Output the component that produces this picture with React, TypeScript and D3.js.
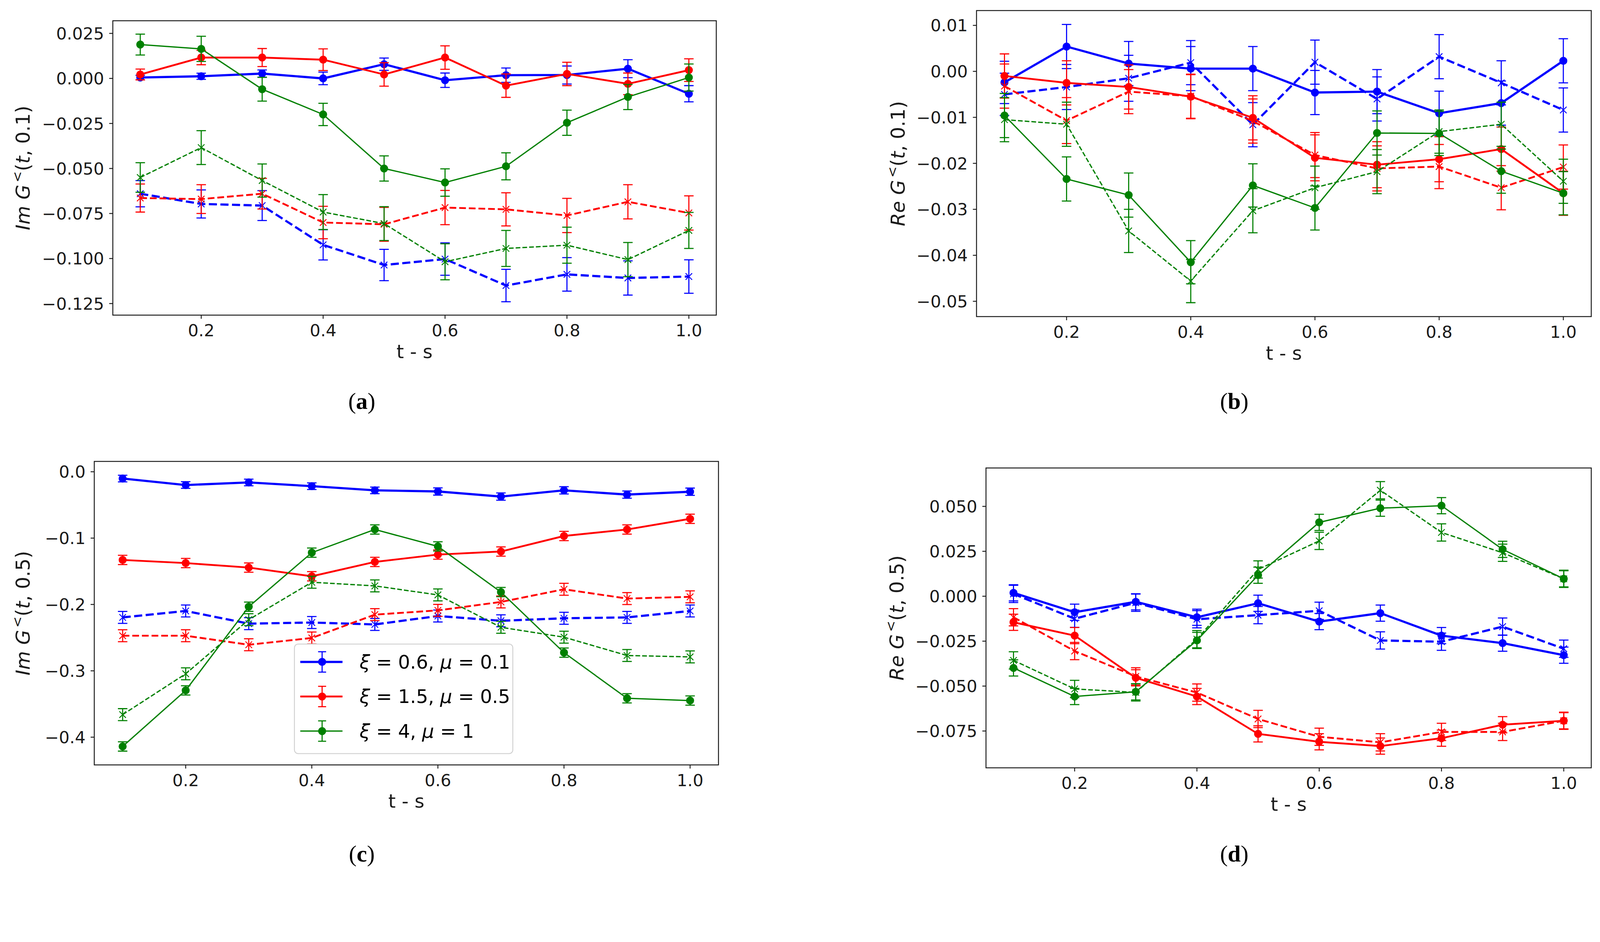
import React from 'react'
import * as d3 from 'd3'

// shared x values (t - s) and ticks
const T = [0.1, 0.2, 0.3, 0.4, 0.5, 0.6, 0.7, 0.8, 0.9, 1.0]
const X_TICKS = [0.2, 0.4, 0.6, 0.8, 1.0]

// (a) Im G<(t, 0.1)
const A_BLUE = [0.0005, 0.0012, 0.0027, 0.0, 0.0079, -0.001, 0.0018, 0.0019, 0.0054, -0.0085]
const A_BLUE_ERR = [0.0012, 0.0017, 0.002, 0.0035, 0.0034, 0.004, 0.004, 0.005, 0.005, 0.0045]
const A_BLUE_D = [-0.064, -0.0697, -0.0706, -0.0924, -0.1036, -0.1003, -0.115, -0.1088, -0.1108, -0.11]
const A_BLUE_D_ERR = [0.0073, 0.0078, 0.0083, 0.0084, 0.0087, 0.009, 0.009, 0.0093, 0.0095, 0.0093]
const A_RED = [0.0022, 0.0116, 0.0116, 0.0104, 0.0022, 0.0116, -0.004, 0.0025, -0.003, 0.0046]
const A_RED_ERR = [0.003, 0.004, 0.005, 0.006, 0.0065, 0.0065, 0.0065, 0.0065, 0.006, 0.0063]
const A_RED_D = [-0.0664, -0.067, -0.064, -0.08, -0.081, -0.0717, -0.0727, -0.0761, -0.0685, -0.0747]
const A_RED_D_ERR = [0.0078, 0.008, 0.0085, 0.009, 0.0094, 0.0095, 0.0092, 0.0095, 0.0095, 0.0095]
const A_GREEN = [0.0188, 0.0164, -0.006, -0.02, -0.05, -0.0578, -0.0488, -0.0246, -0.0103, 0.0005]
const A_GREEN_ERR = [0.0058, 0.007, 0.0066, 0.0062, 0.007, 0.0076, 0.0075, 0.007, 0.007, 0.0075]
const A_GREEN_D = [-0.055, -0.0384, -0.0567, -0.0742, -0.0806, -0.1018, -0.0944, -0.0926, -0.1006, -0.0844]
const A_GREEN_D_ERR = [0.0082, 0.0094, 0.0092, 0.0097, 0.0094, 0.01, 0.01, 0.01, 0.0095, 0.01]
const A_TICKS = [0.025, 0.0, -0.025, -0.05, -0.075, -0.1, -0.125]

// (b) Re G<(t, 0.1)
const B_BLUE = [-0.0024, 0.0054, 0.0017, 0.0006, 0.0006, -0.0046, -0.0044, -0.0091, -0.0069, 0.0023]
const B_BLUE_ERR = [0.0046, 0.0048, 0.0048, 0.0048, 0.0048, 0.0048, 0.0048, 0.0048, 0.0048, 0.0048]
const B_BLUE_D = [-0.005, -0.0034, -0.0015, 0.0019, -0.0116, 0.002, -0.006, 0.0032, -0.0025, -0.0084]
const B_BLUE_D_ERR = [0.0046, 0.0049, 0.005, 0.0048, 0.0048, 0.0048, 0.0048, 0.0048, 0.0048, 0.0048]
const B_RED = [-0.001, -0.0025, -0.0034, -0.0055, -0.0101, -0.0188, -0.0203, -0.0191, -0.0169, -0.0265]
const B_RED_ERR = [0.0048, 0.0048, 0.0048, 0.0048, 0.0048, 0.005, 0.005, 0.0049, 0.0048, 0.0048]
const B_RED_D = [-0.0032, -0.0107, -0.0044, -0.0054, -0.0108, -0.0182, -0.0211, -0.0207, -0.0253, -0.0208]
const B_RED_D_ERR = [0.0048, 0.005, 0.0048, 0.0048, 0.0048, 0.0049, 0.0049, 0.0048, 0.0048, 0.0048]
const B_GREEN = [-0.0096, -0.0234, -0.0269, -0.0415, -0.0248, -0.0297, -0.0134, -0.0135, -0.0217, -0.0265]
const B_GREEN_ERR = [0.0048, 0.0048, 0.0048, 0.0047, 0.0047, 0.0048, 0.0048, 0.0048, 0.0048, 0.0047]
const B_GREEN_D = [-0.0105, -0.0115, -0.0347, -0.0456, -0.0303, -0.0253, -0.0218, -0.0131, -0.0115, -0.0239]
const B_GREEN_D_ERR = [0.0048, 0.0048, 0.0047, 0.0047, 0.0048, 0.0047, 0.0048, 0.0047, 0.0048, 0.0048]
const B_TICKS = [0.01, 0.0, -0.01, -0.02, -0.03, -0.04, -0.05]

// (c) Im G<(t, 0.5)
const C_BLUE = [-0.0102, -0.02, -0.0161, -0.0217, -0.028, -0.0297, -0.0374, -0.028, -0.0344, -0.0301]
const C_BLUE_ERR = [0.005, 0.005, 0.005, 0.005, 0.005, 0.0055, 0.0055, 0.0055, 0.0055, 0.0055]
const C_BLUE_D = [-0.2195, -0.2098, -0.2289, -0.2272, -0.2301, -0.2174, -0.2246, -0.2208, -0.2195, -0.2098]
const C_BLUE_D_ERR = [0.009, 0.009, 0.009, 0.009, 0.009, 0.009, 0.009, 0.009, 0.009, 0.009]
const C_RED = [-0.1329, -0.1376, -0.1444, -0.1575, -0.1359, -0.1248, -0.1202, -0.0968, -0.087, -0.0709]
const C_RED_ERR = [0.007, 0.007, 0.007, 0.007, 0.007, 0.007, 0.007, 0.007, 0.007, 0.007]
const C_RED_D = [-0.2471, -0.2471, -0.2607, -0.2505, -0.2153, -0.2089, -0.1962, -0.1771, -0.1911, -0.1885]
const C_RED_D_ERR = [0.009, 0.009, 0.009, 0.009, 0.009, 0.009, 0.009, 0.009, 0.009, 0.009]
const C_GREEN = [-0.414, -0.3295, -0.2034, -0.1219, -0.087, -0.1125, -0.1813, -0.2726, -0.3414, -0.3448]
const C_GREEN_ERR = [0.007, 0.007, 0.007, 0.007, 0.007, 0.007, 0.007, 0.007, 0.007, 0.007]
const C_GREEN_D = [-0.366, -0.3045, -0.2229, -0.1665, -0.172, -0.1856, -0.2344, -0.2493, -0.2769, -0.279]
const C_GREEN_D_ERR = [0.009, 0.009, 0.009, 0.009, 0.009, 0.009, 0.009, 0.009, 0.009, 0.009]
const C_TICKS = [0.0, -0.1, -0.2, -0.3, -0.4]

// (d) Re G<(t, 0.5)
const D_BLUE = [0.0019, -0.0089, -0.0031, -0.0117, -0.0039, -0.0141, -0.0094, -0.0219, -0.0261, -0.0328]
const D_BLUE_ERR = [0.0045, 0.0045, 0.0045, 0.0045, 0.0045, 0.0045, 0.0045, 0.0045, 0.0045, 0.0045]
const D_BLUE_D = [0.0013, -0.0125, -0.0036, -0.0128, -0.0105, -0.0081, -0.0246, -0.0253, -0.0169, -0.0292]
const D_BLUE_D_ERR = [0.0048, 0.0048, 0.0048, 0.0048, 0.0048, 0.0048, 0.0048, 0.0048, 0.0048, 0.0048]
const D_RED = [-0.0145, -0.0219, -0.0454, -0.0558, -0.0766, -0.081, -0.0834, -0.079, -0.0715, -0.0693]
const D_RED_ERR = [0.0045, 0.0045, 0.0045, 0.0045, 0.0045, 0.0045, 0.0045, 0.0045, 0.0045, 0.0045]
const D_RED_D = [-0.0117, -0.0305, -0.0446, -0.0536, -0.0683, -0.0782, -0.0813, -0.0755, -0.0755, -0.0693]
const D_RED_D_ERR = [0.0048, 0.0048, 0.0048, 0.0048, 0.0048, 0.0048, 0.0048, 0.0048, 0.0048, 0.0048]
const D_GREEN = [-0.0399, -0.0558, -0.0532, -0.0246, 0.0117, 0.0411, 0.049, 0.0504, 0.0261, 0.0097]
const D_GREEN_ERR = [0.0045, 0.0045, 0.0045, 0.0045, 0.0045, 0.0045, 0.0045, 0.0045, 0.0045, 0.0045]
const D_GREEN_D = [-0.0357, -0.0516, -0.0535, -0.0239, 0.0149, 0.0308, 0.059, 0.0355, 0.0242, 0.0097]
const D_GREEN_D_ERR = [0.0048, 0.0048, 0.0048, 0.0048, 0.0048, 0.0048, 0.0048, 0.0048, 0.0048, 0.0048]
const D_TICKS = [0.05, 0.025, 0.0, -0.025, -0.05, -0.075]

const LEGEND_LABELS = [
  { xi: '0.6', mu: '0.1' },
  { xi: '1.5', mu: '0.5' },
  { xi: '4', mu: '1' },
]

const COLORS = { blue: '#0000ff', red: '#ff0000', green: '#008000' }
const LW = { blue: 6, red: 5, green: 3.5 }
const FONT = 'DejaVu Sans'
const MINUS = (s: string) => s.replace('-', '\u2212')

type Key = 'blue' | 'red' | 'green'
interface Series { key: Key; dashed: boolean; vals: number[]; errs: number[] }

const mk = (key: Key, dashed: boolean, vals: number[], errs: number[]): Series => ({ key, dashed, vals, errs })

function Panel(props: {
  frame: { l: number; r: number; t: number; b: number }
  series: Series[]
  yTicks: number[]
  yFmt: string
  part: string
  arg: string
  yLabelX: number
  caption: string
  capX: number
  capY: number
  legend?: { x0: number; y0: number; x1: number; y1: number; rows: number[] }
}) {
  const { frame, series, yTicks, yFmt, part, arg, yLabelX, caption, capX, capY, legend } = props
  const tSpan = d3.max(T)! - d3.min(T)!
  const x = d3.scaleLinear()
    .domain([d3.min(T)! - 0.05 * tSpan, d3.max(T)! + 0.05 * tSpan])
    .range([frame.l, frame.r])
  const lo = d3.min(series.flatMap((s) => s.vals.map((v, i) => v - s.errs[i])))!
  const hi = d3.max(series.flatMap((s) => s.vals.map((v, i) => v + s.errs[i])))!
  const pad = (hi - lo) * 0.05
  const y = d3.scaleLinear().domain([lo - pad, hi + pad]).range([frame.b, frame.t])
  const fmt = d3.format(yFmt)
  const line = d3.line<number>().x((_, i) => x(T[i])).y((v) => y(v))
  const cap = 13
  const ms = 9

  return (
    <g>
      <defs>
        <clipPath id={`clip-${caption}`}>
          <rect x={frame.l} y={frame.t} width={frame.r - frame.l} height={frame.b - frame.t} />
        </clipPath>
      </defs>
      <g clipPath={`url(#clip-${caption})`}>
        {series.map((s, si) => {
          const c = COLORS[s.key]
          const lw = LW[s.key]
          return (
            <g key={si}>
              <path d={line(s.vals) ?? ''} fill="none" stroke={c} strokeWidth={lw}
                strokeDasharray={s.dashed ? `${3.7 * lw} ${1.6 * lw}` : undefined} />
              {s.vals.map((v, i) => {
                const cx = x(T[i])
                const y1 = y(v + s.errs[i])
                const y2 = y(v - s.errs[i])
                return (
                  <g key={i} stroke={c} strokeWidth={3}>
                    <line x1={cx} x2={cx} y1={y1} y2={y2} />
                    <line x1={cx - cap} x2={cx + cap} y1={y1} y2={y1} />
                    <line x1={cx - cap} x2={cx + cap} y1={y2} y2={y2} />
                  </g>
                )
              })}
              {s.vals.map((v, i) => s.dashed ? (
                <path key={`m${i}`} transform={`translate(${x(T[i])},${y(v)})`}
                  d={`M${-ms},${-ms}L${ms},${ms}M${-ms},${ms}L${ms},${-ms}`}
                  stroke={c} strokeWidth={2.5} fill="none" />
              ) : (
                <circle key={`m${i}`} cx={x(T[i])} cy={y(v)} r={11} fill={c} />
              ))}
            </g>
          )
        })}
      </g>

      {/* legend */}
      {legend && (
        <g>
          <rect x={legend.x0} y={legend.y0} width={legend.x1 - legend.x0} height={legend.y1 - legend.y0}
            rx={10} fill="#ffffff" fillOpacity={0.8} stroke="#d0d0d0" strokeWidth={2.5} />
          {(['blue', 'red', 'green'] as Key[]).map((k, i) => {
            const cy = legend.rows[i]
            const hx = legend.x0 + 76
            return (
              <g key={k}>
                <line x1={legend.x0 + 16} x2={legend.x0 + 132} y1={cy} y2={cy} stroke={COLORS[k]} strokeWidth={LW[k]} />
                <g stroke={COLORS[k]} strokeWidth={3}>
                  <line x1={hx} x2={hx} y1={cy - 28} y2={cy + 28} />
                  <line x1={hx - 11} x2={hx + 11} y1={cy - 28} y2={cy - 28} />
                  <line x1={hx - 11} x2={hx + 11} y1={cy + 28} y2={cy + 28} />
                </g>
                <circle cx={hx} cy={cy} r={11} fill={COLORS[k]} />
                <text x={legend.x0 + 179} y={cy + 18} fontFamily={FONT} fontSize={52} fill="#000">
                  <tspan fontStyle="italic">ξ</tspan>
                  <tspan> = {LEGEND_LABELS[i].xi}, </tspan>
                  <tspan fontStyle="italic">μ</tspan>
                  <tspan> = {LEGEND_LABELS[i].mu}</tspan>
                </text>
              </g>
            )
          })}
        </g>
      )}

      {/* frame */}
      <rect x={frame.l} y={frame.t} width={frame.r - frame.l} height={frame.b - frame.t}
        fill="none" stroke="#1a1a1a" strokeWidth={2.6} />

      {/* x axis */}
      {X_TICKS.map((tv) => (
        <g key={tv}>
          <line x1={x(tv)} x2={x(tv)} y1={frame.b} y2={frame.b + 10} stroke="#1a1a1a" strokeWidth={2.5} />
          <text x={x(tv)} y={frame.b + 58} textAnchor="middle" fontFamily={FONT} fontSize={46} fill="#1a1a1a">
            {d3.format('.1f')(tv)}
          </text>
        </g>
      ))}
      <text x={(frame.l + frame.r) / 2} y={frame.b + 118} textAnchor="middle" fontFamily={FONT} fontSize={52} fill="#1a1a1a">
        t - s
      </text>

      {/* y axis */}
      {yTicks.map((tv) => (
        <g key={tv}>
          <line x1={frame.l - 10} x2={frame.l} y1={y(tv)} y2={y(tv)} stroke="#1a1a1a" strokeWidth={2.5} />
          <text x={frame.l - 24} y={y(tv)} dy="0.36em" textAnchor="end" fontFamily={FONT} fontSize={46} fill="#1a1a1a">
            {MINUS(fmt(tv))}
          </text>
        </g>
      ))}
      <text transform={`translate(${yLabelX},${(frame.t + frame.b) / 2}) rotate(-90)`} textAnchor="middle"
        fontFamily={FONT} fontSize={53} fill="#1a1a1a">
        <tspan fontStyle="italic">{part} G</tspan>
        <tspan fontSize={37} dx={6} dy={-22}>{'<'}</tspan>
        <tspan dy={22}>(</tspan>
        <tspan fontStyle="italic">t</tspan>
        <tspan>{`, ${arg})`}</tspan>
      </text>

      {/* caption */}
      <text x={capX} y={capY} textAnchor="middle" fontFamily="Liberation Serif" fontSize={64} fill="#000">
        (<tspan fontWeight="bold">{caption}</tspan>)
      </text>
    </g>
  )
}

export default function App() {
  return (
    <svg viewBox="0 0 4396 2412" preserveAspectRatio="xMinYMin meet"
      style={{ position: 'fixed', left: 0, top: 0, width: '100vw', height: '100vh', background: '#ffffff' }}>
      <rect width={4396} height={2412} fill="#ffffff" />
      <Panel
        frame={{ l: 310, r: 1968, t: 57, b: 866 }}
        series={[
          mk('blue', false, A_BLUE, A_BLUE_ERR), mk('blue', true, A_BLUE_D, A_BLUE_D_ERR),
          mk('red', false, A_RED, A_RED_ERR), mk('red', true, A_RED_D, A_RED_D_ERR),
          mk('green', false, A_GREEN, A_GREEN_ERR), mk('green', true, A_GREEN_D, A_GREEN_D_ERR),
        ]}
        yTicks={A_TICKS} yFmt=".3f" part="Im" arg="0.1" yLabelX={82}
        caption="a" capX={994} capY={1124}
      />
      <Panel
        frame={{ l: 2683, r: 4372, t: 29, b: 870 }}
        series={[
          mk('blue', false, B_BLUE, B_BLUE_ERR), mk('blue', true, B_BLUE_D, B_BLUE_D_ERR),
          mk('red', false, B_RED, B_RED_ERR), mk('red', true, B_RED_D, B_RED_D_ERR),
          mk('green', false, B_GREEN, B_GREEN_ERR), mk('green', true, B_GREEN_D, B_GREEN_D_ERR),
        ]}
        yTicks={B_TICKS} yFmt=".2f" part="Re" arg="0.1" yLabelX={2486}
        caption="b" capX={3391} capY={1124}
      />
      <Panel
        frame={{ l: 259, r: 1974, t: 1268, b: 2102 }}
        series={[
          mk('blue', false, C_BLUE, C_BLUE_ERR), mk('blue', true, C_BLUE_D, C_BLUE_D_ERR),
          mk('red', false, C_RED, C_RED_ERR), mk('red', true, C_RED_D, C_RED_D_ERR),
          mk('green', false, C_GREEN, C_GREEN_ERR), mk('green', true, C_GREEN_D, C_GREEN_D_ERR),
        ]}
        yTicks={C_TICKS} yFmt=".1f" part="Im" arg="0.5" yLabelX={82}
        caption="c" capX={994} capY={2368}
        legend={{ x0: 809, y0: 1770, x1: 1409, y1: 2071, rows: [1819, 1914, 2009] }}
      />
      <Panel
        frame={{ l: 2709, r: 4372, t: 1286, b: 2110 }}
        series={[
          mk('blue', false, D_BLUE, D_BLUE_ERR), mk('blue', true, D_BLUE_D, D_BLUE_D_ERR),
          mk('red', false, D_RED, D_RED_ERR), mk('red', true, D_RED_D, D_RED_D_ERR),
          mk('green', false, D_GREEN, D_GREEN_ERR), mk('green', true, D_GREEN_D, D_GREEN_D_ERR),
        ]}
        yTicks={D_TICKS} yFmt=".3f" part="Re" arg="0.5" yLabelX={2482}
        caption="d" capX={3391} capY={2368}
      />
    </svg>
  )
}
